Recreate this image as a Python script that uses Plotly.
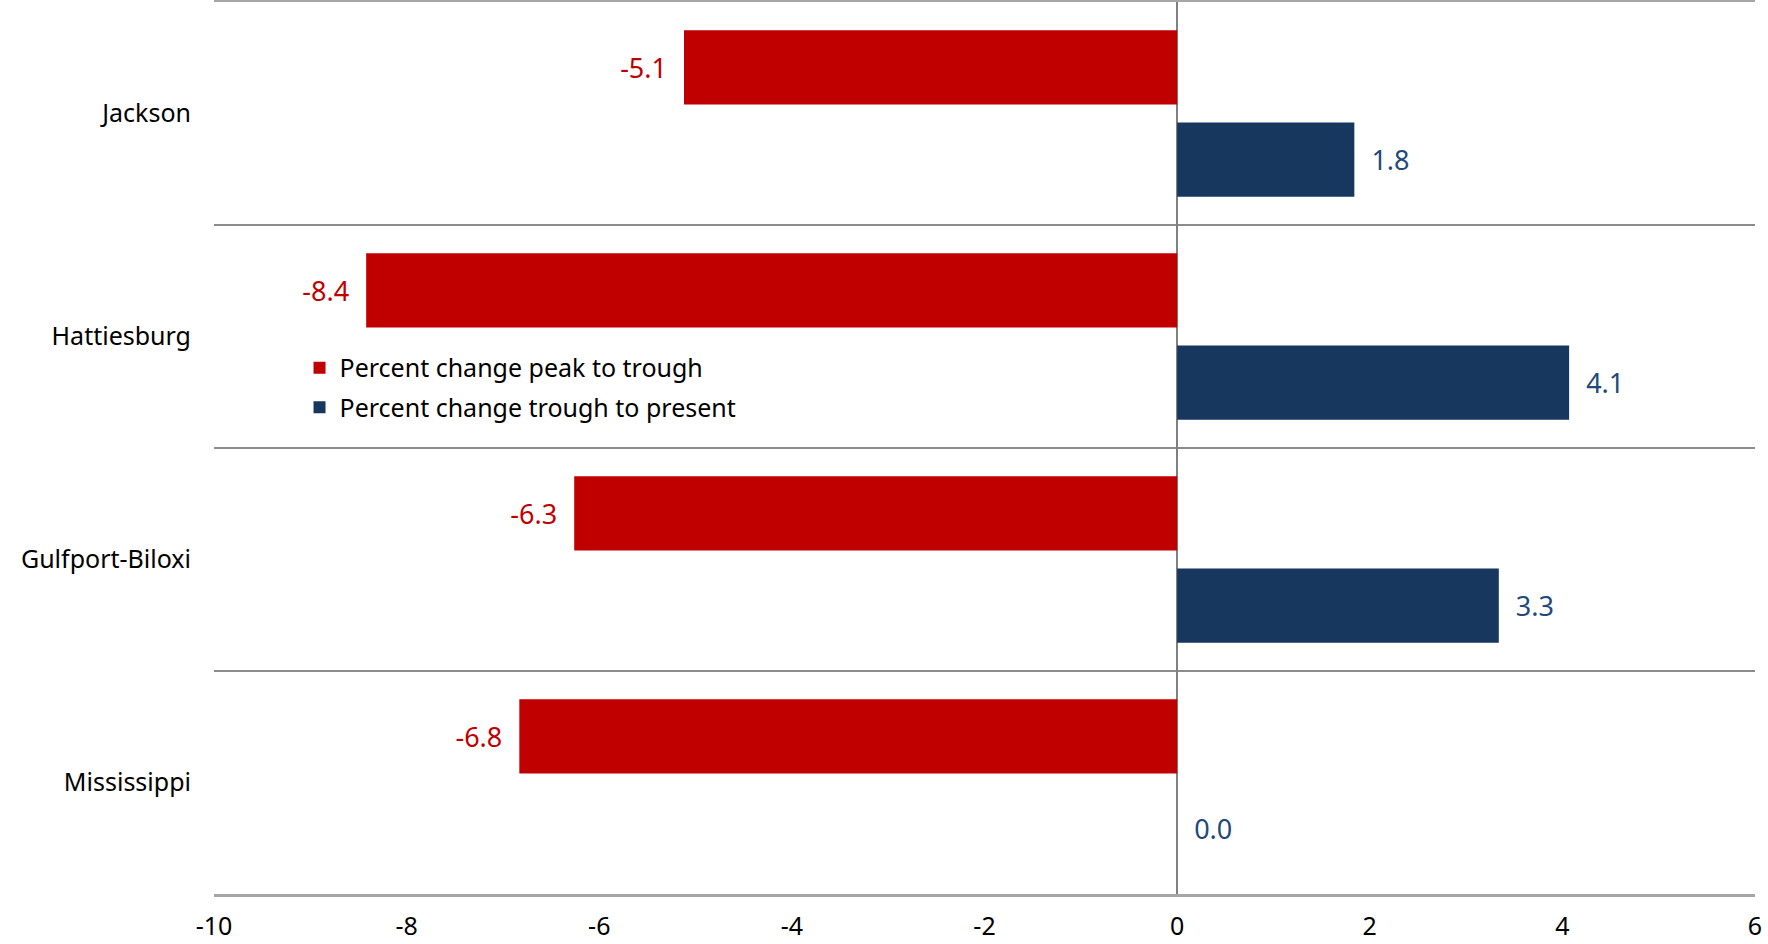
import plotly.graph_objects as go

categories = ["Jackson", "Hattiesburg", "Gulfport-Biloxi", "Mississippi"]
peak_to_trough = [-5.12, -8.42, -6.26, -6.83]
trough_to_present = [1.84, 4.07, 3.34, 0.0]
series_names = ["Percent change peak to trough", "Percent change trough to present"]
x_ticks = [-10, -8, -6, -4, -2, 0, 2, 4, 6]

RED = "#C00000"
NAVY = "#17375E"
BLUE_TXT = "#1F497D"
FONT = "Noto Sans, Open Sans, sans-serif"

fig = go.Figure()
fig.add_trace(go.Bar(
    y=categories, x=peak_to_trough, orientation="h", name=series_names[0],
    legendgroup="a",
    marker=dict(color=RED, line=dict(width=0)),
    text=[f"{v:.1f}\u00a0\u00a0" for v in peak_to_trough],
    textposition="outside", cliponaxis=False,
    textfont=dict(color=RED, size=27, family=FONT),
))
fig.add_trace(go.Bar(
    y=categories, x=trough_to_present, orientation="h", name=series_names[1],
    legendgroup="b",
    marker=dict(color=NAVY, line=dict(width=0)),
    text=[f"\u00a0\u00a0{v:.1f}" for v in trough_to_present],
    textposition="outside", cliponaxis=False,
    textfont=dict(color=BLUE_TXT, size=27, family=FONT),
))

fig.update_layout(
    width=1768, height=944,
    margin=dict(l=214, r=13, t=2, b=50, autoexpand=False),
    paper_bgcolor="white", plot_bgcolor="white",
    barmode="group", bargap=0.172, bargroupgap=0.195,
    font=dict(family=FONT, size=25, color="black"),
    showlegend=True,
    legend=dict(x=0.0555, y=0.6155, xanchor="left", yanchor="top",
                bgcolor="rgba(0,0,0,0)", font=dict(size=25, color="black"),
                traceorder="grouped", tracegroupgap=4, itemwidth=30),
)
fig.update_xaxes(
    range=[-10, 6], tickvals=x_ticks, ticktext=[str(t) for t in x_ticks],
    showgrid=False, zeroline=True, zerolinecolor="#808080", zerolinewidth=1.5,
    showline=True, linecolor="#A6A6A6", linewidth=2.5, mirror=True, ticks="",
    ticklabelstandoff=8, tickfont=dict(size=25, color="black"), automargin=False,
)
fig.update_yaxes(
    type="category", categoryorder="array", categoryarray=categories,
    autorange="reversed", tickson="boundaries", showgrid=True,
    gridcolor="#8C8C8C", gridwidth=1.5, ticks="", showline=False,
    ticklabelstandoff=22, tickfont=dict(size=25, color="black"), automargin=False,
)

fig.write_html(
    "out.html",
    config={"displayModeBar": False},
    post_script="document.body.style.margin='0';document.body.style.overflow='hidden';",
)
